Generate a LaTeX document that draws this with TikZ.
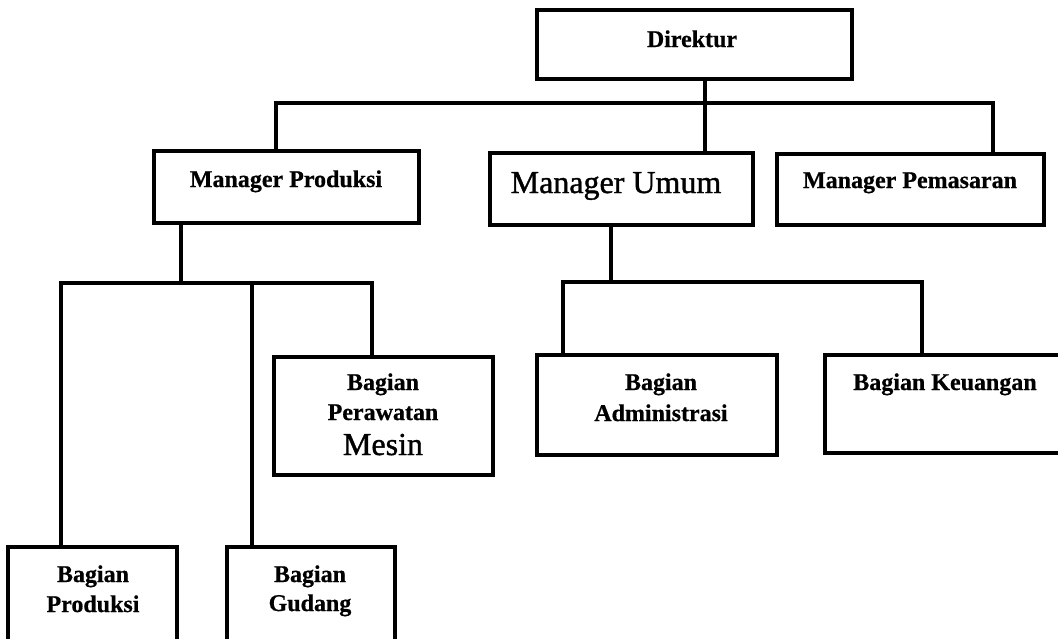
\documentclass[tikz,border=0pt]{standalone}
\usepackage{fontspec}
\setmainfont{Liberation Serif}
\usepackage{tikz}

\tikzset{
  box/.style = {draw, line width=3.4pt, inner sep=0pt},
  lbl/.style = {font=\bfseries\fontsize{24}{26}\selectfont\addfontfeature{FakeBold=0.6}, anchor=base, inner sep=0pt},
  lblbig/.style = {font=\fontsize{32}{34}\selectfont\addfontfeature{FakeBold=1.2}, anchor=base, inner sep=0pt},
  wire/.style = {line width=3.4pt, line cap=rect}
}

\begin{document}
\begin{tikzpicture}[x=1pt, y=-1pt]
            \useasboundingbox (0,0) rectangle (1058,638);
            %\draw [step = 50, help lines] (0,0) grid (1058,638);

            % boxes
            \node[box, minimum width=315pt, minimum height=69pt] (dir) at (694.5,44.5) {};
            \node[box, minimum width=265pt, minimum height=72pt] (mprod) at (286.5,187) {};
            \node[box, minimum width=263pt, minimum height=72pt] (mumum) at (621.5,189) {};
            \node[box, minimum width=267pt, minimum height=71pt] (mpem) at (910.5,189.5) {};
            \node[box, minimum width=219pt, minimum height=118pt] (bper) at (383.5,416) {};
            \node[box, minimum width=240pt, minimum height=100pt] (badm) at (657,405) {};
            \node[box, minimum width=239pt, minimum height=98pt] (bkeu) at (944.5,404) {};
            \node[box, minimum width=169pt, minimum height=113pt] (bprod) at (92.5,603.5) {};
            \node[box, minimum width=168pt, minimum height=113pt] (bgud) at (311,603.5) {};

            % texts
            \node[lbl] (tdir) at (692,47) {Direktur};
            \node[lbl] (tmprod) at (286,187) {Manager Produksi};
            \node[lblbig] (tmumum) at (616,193) {Manager Umum};
            \node[lbl] (tmpem) at (910,188) {Manager Pemasaran};
            \node[lbl] (tper1) at (383,390) {Bagian};
            \node[lbl] (tper2) at (383,420) {Perawatan};
            \node[lblbig] (tper3) at (383,455) {Mesin};
            \node[lbl] (tadm1) at (661,390) {Bagian};
            \node[lbl] (tadm2) at (661,421) {Administrasi};
            \node[lbl] (tkeu) at (945,390) {Bagian Keuangan};
            \node[lbl] (tprod1) at (93,582) {Bagian};
            \node[lbl] (tprod2) at (93,612) {Produksi};
            \node[lbl] (tgud1) at (310,582) {Bagian};
            \node[lbl] (tgud2) at (310,611) {Gudang};

            % junctions
            \coordinate (j1) at (276,103);
            \coordinate (j2) at (705,103);
            \coordinate (j3) at (993,103);
            \coordinate (k0) at (181,283);
            \coordinate (k1) at (61,283);
            \coordinate (k2) at (252,283);
            \coordinate (k3) at (372,283);
            \coordinate (m0) at (611,282);
            \coordinate (m1) at (563,282);
            \coordinate (m2) at (922,282);

            % lines
            \draw[wire] (j1 |- mprod.north) -- (j1) -- (j3) -- (j3 |- mpem.north);
            \draw[wire] (j2 |- dir.south) -- (j2 |- mumum.north);

            \draw[wire] (k0 |- mprod.south) -- (k0);
            \draw[wire] (k1 |- bprod.north) -- (k1) -- (k3) -- (k3 |- bper.north);
            \draw[wire] (k2) -- (k2 |- bgud.north);

            \draw[wire] (m0 |- mumum.south) -- (m0);
            \draw[wire] (m1 |- badm.north) -- (m1) -- (m2) -- (m2 |- bkeu.north);
\end{tikzpicture}
\end{document}
